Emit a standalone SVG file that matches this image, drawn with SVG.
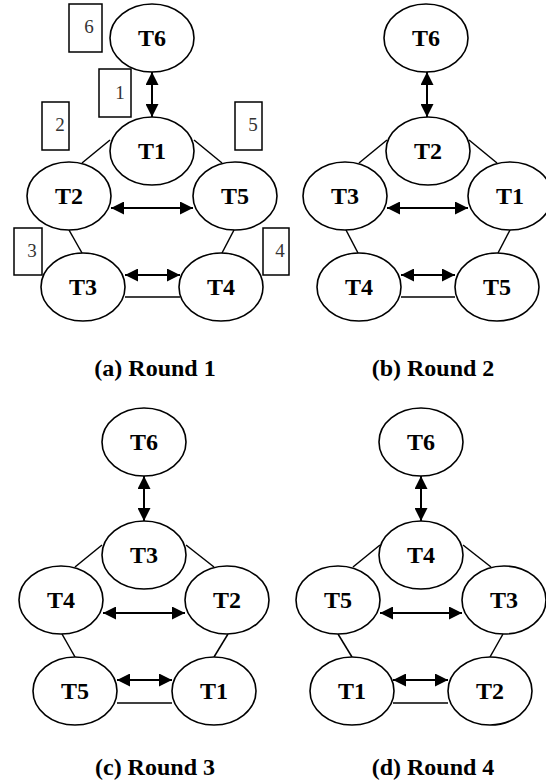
<svg xmlns="http://www.w3.org/2000/svg" width="546" height="782" viewBox="0 0 546 782">
<style>
.n ellipse{fill:#fff;stroke:#000;stroke-width:1.6}
.n text{font-family:"Liberation Serif","Times New Roman",serif;font-weight:bold;font-size:24px;text-anchor:middle;fill:#000}
.e line{stroke:#000;stroke-width:1.5}
.e line.a{stroke-width:2;marker-start:url(#ah);marker-end:url(#ah)}
.box rect{fill:#fff;stroke:#000;stroke-width:1.5}
.box text{font-family:"Liberation Serif","Times New Roman",serif;font-size:19px;fill:#333;text-anchor:middle}
.cap{font-family:"Liberation Serif","Times New Roman",serif;font-weight:bold;font-size:24px;text-anchor:middle;fill:#000}
</style>
<defs>
<marker id="ah" viewBox="0 0 13 13" refX="13" refY="6.5" markerWidth="13" markerHeight="13" markerUnits="userSpaceOnUse" orient="auto-start-reverse">
<path d="M0,0 L13,6.5 L0,13 z" fill="#000"/>
</marker>
</defs>

<!-- Panel (a) -->
<g id="a-edges" class="e">
<line class="a" x1="152" y1="72" x2="152" y2="117"/>
<line x1="110" y1="140" x2="82" y2="163"/>
<line x1="194" y1="140" x2="222" y2="163"/>
<line class="a" x1="111" y1="208" x2="193" y2="208"/>
<line x1="69" y1="230" x2="82" y2="253"/>
<line x1="234" y1="230" x2="222" y2="253"/>
<line class="a" x1="125" y1="275" x2="180" y2="275"/>
<line x1="125" y1="297" x2="180" y2="297"/>
</g>
<g id="a-box6" class="box"><rect x="69" y="4" width="33" height="48"/><text x="89" y="33">6</text></g>
<g id="a-box1" class="box"><rect x="99" y="69" width="32" height="48"/><text x="120" y="99">1</text></g>
<g id="a-box2" class="box"><rect x="42" y="102" width="27" height="48"/><text x="60" y="131">2</text></g>
<g id="a-box5" class="box"><rect x="235" y="102" width="27" height="48"/><text x="253" y="131">5</text></g>
<g id="a-box3" class="box"><rect x="14" y="228" width="28" height="47"/><text x="32" y="257">3</text></g>
<g id="a-box4" class="box"><rect x="263" y="228" width="26" height="47"/><text x="280" y="257">4</text></g>
<g id="a-T6" class="n"><ellipse cx="152" cy="38" rx="42" ry="34"/><text x="152" y="46">T6</text></g>
<g id="a-T1" class="n"><ellipse cx="152" cy="151" rx="42" ry="34"/><text x="152" y="159">T1</text></g>
<g id="a-T2" class="n"><ellipse cx="69" cy="196" rx="42" ry="34"/><text x="69" y="204">T2</text></g>
<g id="a-T5" class="n"><ellipse cx="235" cy="196" rx="42" ry="34"/><text x="235" y="204">T5</text></g>
<g id="a-T3" class="n"><ellipse cx="83" cy="287" rx="42" ry="34"/><text x="83" y="295">T3</text></g>
<g id="a-T4" class="n"><ellipse cx="221" cy="287" rx="42" ry="34"/><text x="221" y="295">T4</text></g>
<text class="cap" x="155" y="376">(a) Round 1</text>

<!-- Panel (b) -->
<g id="b-edges" class="e">
<line class="a" x1="427" y1="72" x2="427" y2="117"/>
<line x1="387" y1="140" x2="359" y2="163"/>
<line x1="469" y1="140" x2="497" y2="163"/>
<line class="a" x1="387" y1="208" x2="468" y2="208"/>
<line x1="346" y1="230" x2="358" y2="253"/>
<line x1="510" y1="230" x2="498" y2="253"/>
<line class="a" x1="401" y1="275" x2="455" y2="275"/>
<line x1="401" y1="297" x2="455" y2="297"/>
</g>
<g id="b-T6" class="n"><ellipse cx="426" cy="38" rx="42" ry="34"/><text x="426" y="46">T6</text></g>
<g id="b-T2" class="n"><ellipse cx="428" cy="151" rx="42" ry="34"/><text x="428" y="159">T2</text></g>
<g id="b-T3" class="n"><ellipse cx="345" cy="196" rx="42" ry="34"/><text x="345" y="204">T3</text></g>
<g id="b-T1" class="n"><ellipse cx="510" cy="196" rx="42" ry="34"/><text x="510" y="204">T1</text></g>
<g id="b-T4" class="n"><ellipse cx="359" cy="287" rx="42" ry="34"/><text x="359" y="295">T4</text></g>
<g id="b-T5" class="n"><ellipse cx="497" cy="287" rx="42" ry="34"/><text x="497" y="295">T5</text></g>
<text class="cap" x="433" y="376">(b) Round 2</text>

<!-- Panel (c) -->
<g id="c-edges" class="e">
<line class="a" x1="144" y1="476" x2="144" y2="521"/>
<line x1="102" y1="545" x2="75" y2="567"/>
<line x1="186" y1="545" x2="214" y2="567"/>
<line class="a" x1="103" y1="613" x2="185" y2="613"/>
<line x1="62" y1="634" x2="75" y2="657"/>
<line x1="228" y1="634" x2="214" y2="657"/>
<line class="a" x1="117" y1="680" x2="172" y2="680"/>
<line x1="117" y1="703" x2="172" y2="703"/>
</g>
<g id="c-T6" class="n"><ellipse cx="144" cy="442" rx="42" ry="34"/><text x="144" y="450">T6</text></g>
<g id="c-T3" class="n"><ellipse cx="144" cy="555" rx="42" ry="34"/><text x="144" y="563">T3</text></g>
<g id="c-T4" class="n"><ellipse cx="61" cy="600" rx="42" ry="34"/><text x="61" y="608">T4</text></g>
<g id="c-T2" class="n"><ellipse cx="227" cy="600" rx="42" ry="34"/><text x="227" y="608">T2</text></g>
<g id="c-T5" class="n"><ellipse cx="75" cy="691" rx="42" ry="34"/><text x="75" y="699">T5</text></g>
<g id="c-T1" class="n"><ellipse cx="214" cy="691" rx="42" ry="34"/><text x="214" y="699">T1</text></g>
<text class="cap" x="155" y="775">(c) Round 3</text>

<!-- Panel (d) -->
<g id="d-edges" class="e">
<line class="a" x1="421" y1="476" x2="421" y2="521"/>
<line x1="380" y1="545" x2="353" y2="567"/>
<line x1="463" y1="545" x2="491" y2="567"/>
<line class="a" x1="380" y1="613" x2="462" y2="613"/>
<line x1="338" y1="634" x2="352" y2="657"/>
<line x1="503" y1="634" x2="490" y2="657"/>
<line class="a" x1="393" y1="680" x2="448" y2="680"/>
<line x1="393" y1="703" x2="448" y2="703"/>
</g>
<g id="d-T6" class="n"><ellipse cx="421" cy="442" rx="42" ry="34"/><text x="421" y="450">T6</text></g>
<g id="d-T4" class="n"><ellipse cx="421" cy="555" rx="42" ry="34"/><text x="421" y="563">T4</text></g>
<g id="d-T5" class="n"><ellipse cx="338" cy="600" rx="42" ry="34"/><text x="338" y="608">T5</text></g>
<g id="d-T3" class="n"><ellipse cx="504" cy="600" rx="42" ry="34"/><text x="504" y="608">T3</text></g>
<g id="d-T1" class="n"><ellipse cx="352" cy="691" rx="42" ry="34"/><text x="352" y="699">T1</text></g>
<g id="d-T2" class="n"><ellipse cx="490" cy="691" rx="42" ry="34"/><text x="490" y="699">T2</text></g>
<text class="cap" x="433" y="775">(d) Round 4</text>
</svg>
